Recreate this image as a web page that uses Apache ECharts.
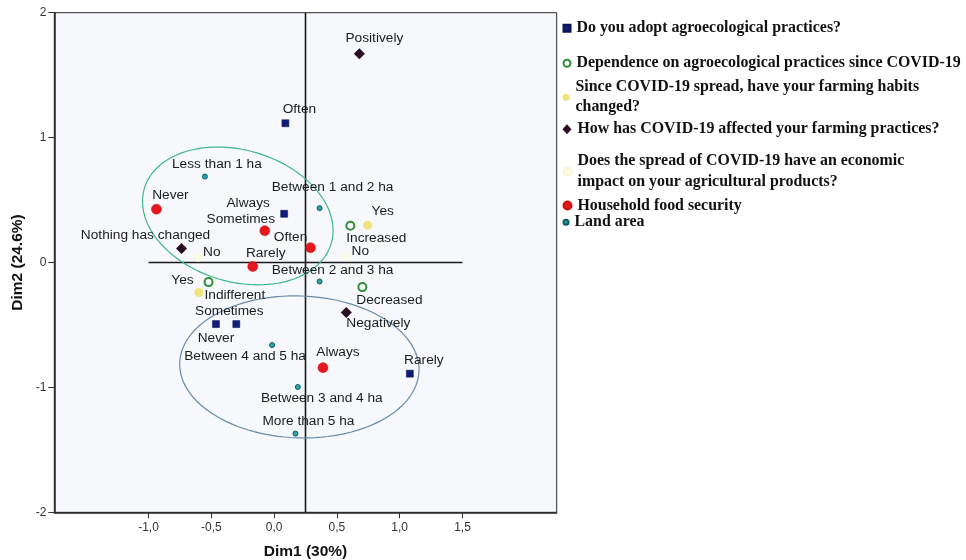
<!DOCTYPE html>
<html><head><meta charset="utf-8">
<script src="https://cdn.jsdelivr.net/npm/echarts@6/dist/echarts.min.js"></script>
<style>html,body{margin:0;padding:0;background:#fff}#c{width:966px;height:560px}</style>
</head><body><div id="c"></div>
<script>
// ---- data ----
const seriesNames = [
  'Do you adopt agroecological practices?',
  'Dependence on agroecological practices since COVID-19',
  'Since COVID-19 spread, have your farming habits changed?',
  'How has COVID-19 affected your farming practices?',
  'Does the spread of COVID-19 have an economic impact on your agricultural products?',
  'Household food security',
  'Land area'
];
const legendLabels = [
  'Do you adopt agroecological practices?',
  'Dependence on agroecological practices since COVID-19',
  'Since COVID-19 spread, have your farming habits\nchanged?',
  'How has COVID-19 affected your farming practices?',
  'Does the spread of COVID-19 have an economic\nimpact on your agricultural products?',
  'Household food security',
  'Land area'
];
const adoptPts = [[0.090, 1.115, 'Often'], [0.080, 0.390, 'Always'], [-0.463, -0.493, 'Never'], [-0.301, -0.493, 'Sometimes'], [1.081, -0.890, 'Rarely']];
const dependPts = [[0.607, 0.294, 'Increased'], [-0.522, -0.157, 'Yes'], [0.703, -0.197, 'Decreased']];
const habitsPts = [[0.745, 0.299, 'Yes'], [-0.599, -0.240, 'Indifferent']];
const affectedPts = [[0.679, 1.672, 'Positively'], [-0.737, 0.112, 'Nothing has changed'], [0.575, -0.400, 'Negatively']];
const economicPts = [[0.575, 0.046, 'No'], [-0.607, 0.040, 'No']];
const foodPts = [[-0.937, 0.427, 'Never'], [-0.074, 0.254, 'Sometimes'], [0.290, 0.118, 'Often'], [-0.170, -0.032, 'Rarely'], [0.389, -0.842, 'Always']];
const landPts = [[-0.551, 0.688, 'Less than 1 ha'], [0.362, 0.435, 'Between 1 and 2 ha'], [0.362, -0.152, 'Between 2 and 3 ha'], [-0.016, -0.661, 'Between 4 and 5 ha'], [0.189, -0.997, 'Between 3 and 4 ha'], [0.170, -1.370, 'More than 5 ha']];
const xTickValues = [-1, -0.5, 0, 0.5, 1, 1.5];
const xRange = [-1.75, 2.25];
const yRange = [-2, 2];
const refVerticalX = 0.25;
const refHorizontal = [[-1, 0], [1.5, 0]];
// ellipses: [cx, cy, a, b, angleDeg]
const ellipses = [[-0.289, 0.373, 0.776, 0.527, -16.6], [0.201, -0.836, 0.953, 0.568, -2]];

// ---- label placement (pixel offsets of text centre from point) ----
const adoptOff = [[14, -14], [-36, -11], [0, 14], [-7, -13], [14, -13]];
const dependOff = [[26, 12], [-26, -2], [27, 13]];
const habitsOff = [[15, -14], [36, 3]];
const affectedOff = [[15, -15], [-36, -13], [32, 11]];
const economicOff = [[14, -6], [14, -5]];
const foodOff = [[14, -14], [-24, -12], [-20, -11], [13, -13], [15, -15]];
const landOff = [[12, -12], [13, -21], [13, -11], [-27, 11], [24, 11], [13, -12]];

const styles = [
  {symbol: 'rect', size: 7, color: '#0f1d78', border: '#0a1250', bw: 0.5, icon: 'rect', iw: 7, ih: 7},
  {symbol: 'emptyCircle', size: 8, color: '#2f8f3a', border: '#2f8f3a', bw: 1.3, icon: 'emptyCircle', iw: 7, ih: 7},
  {symbol: 'circle', size: 9, color: '#f1e47c', border: '#efe07a', bw: 0, icon: 'circle', iw: 7, ih: 7},
  {symbol: 'diamond', size: 11, color: '#2a0b22', border: '#2a0b22', bw: 0, icon: 'diamond', iw: 9, ih: 10},
  {symbol: 'circle', size: 8, color: '#fbfbe4', border: '#f6f6d6', bw: 0.5, icon: 'circle', iw: 8, ih: 8},
  {symbol: 'circle', size: 10, color: '#e5161c', border: '#c81015', bw: 0.5, icon: 'circle', iw: 8, ih: 8},
  {symbol: 'circle', size: 5, color: '#2aa3ad', border: '#0c5c66', bw: 1, icon: 'circle', iw: 5, ih: 5}
];
const allPts = [adoptPts, dependPts, habitsPts, affectedPts, economicPts, foodPts, landPts];
const allOff = [adoptOff, dependOff, habitsOff, affectedOff, economicOff, foodOff, landOff];
const legendTops = [19.7, 54.7, 77.2, 120.7, 150.7, 197, 213.7];
const legendLineH = [17, 17, 20, 17, 21, 17, 17];

const labelFont = {fontFamily: 'Liberation Sans, Arial, sans-serif', fontSize: 13.7, color: '#1b1b1b'};

const scatterSeries = allPts.map((pts, si) => {
  const st = styles[si];
  return {
    name: seriesNames[si],
    type: 'scatter',
    symbol: st.symbol,
    symbolSize: st.size,
    z: 5,
    itemStyle: {color: st.color, borderColor: st.border, borderWidth: st.bw, opacity: 1},
    data: pts.map((p, i) => ({
      value: [p[0], p[1]],
      label: {
        show: true, position: 'inside', formatter: p[2],
        offset: allOff[si][i], ...labelFont
      }
    })),
    emphasis: {disabled: true}
  };
});

const ellipseColors = ['#3cb88a', '#6a8aab'];

const option = {
  animation: false,
  backgroundColor: '#ffffff',
  grid: {left: 54.3, right: 409.3, top: 12.7, bottom: 47.7, outerBoundsMode: 'none', containLabel: false, show: true, backgroundColor: '#f6f8fc', borderColor: '#2a2a2a', borderWidth: 1},
  xAxis: {
    type: 'value', min: xRange[0], max: xRange[1],
    name: 'Dim1 (30%)', nameLocation: 'middle', nameGap: 31,
    nameTextStyle: {fontFamily: 'Liberation Sans, Arial, sans-serif', fontWeight: 'bold', fontSize: 15.5, color: '#111'},
    axisLine: {show: true, onZero: false, lineStyle: {color: '#222', width: 1.5}},
    axisTick: {show: true, length: 6, customValues: xTickValues, lineStyle: {color: '#333'}},
    axisLabel: {customValues: xTickValues, margin: 9, fontFamily: 'Liberation Sans, Arial, sans-serif', fontSize: 12, color: '#333',
      formatter: v => Number(v).toFixed(1).replace('.', ',')},
    splitLine: {show: false}
  },
  yAxis: {
    type: 'value', min: yRange[0], max: yRange[1], interval: 1,
    name: 'Dim2 (24.6%)', nameLocation: 'middle', nameGap: 29, nameRotate: 90, nameMoveOverlap: false,
    nameTextStyle: {fontFamily: 'Liberation Sans, Arial, sans-serif', fontWeight: 'bold', fontSize: 15.5, color: '#111'},
    axisLine: {show: true, onZero: false, lineStyle: {color: '#222', width: 1.5}},
    axisTick: {show: true, length: 6, lineStyle: {color: '#333'}},
    axisLabel: {margin: 8, fontFamily: 'Liberation Sans, Arial, sans-serif', fontSize: 12, color: '#333'},
    splitLine: {show: false}
  },
  legend: seriesNames.map((n, i) => ({
    data: [n], orient: 'vertical', left: 562.5, top: legendTops[i], padding: 0,
    selectedMode: false, icon: styles[i].icon, itemWidth: styles[i].iw, itemHeight: styles[i].ih, itemGap: 0,
    formatter: () => legendLabels[i],
    textStyle: {fontFamily: 'Liberation Serif, Times New Roman, serif', fontWeight: 'bold', fontSize: 15.9, color: '#111', lineHeight: legendLineH[i], padding: [0, 0, 0, 1]}
  })),
  series: [
    {
      type: 'line', data: [[refVerticalX, yRange[0]], [refVerticalX, yRange[1]]], symbol: 'none', silent: true, z: 2,
      lineStyle: {color: '#1a1a1a', width: 1.6}
    },
    {
      type: 'line', data: refHorizontal, symbol: 'none', silent: true, z: 2,
      lineStyle: {color: '#1a1a1a', width: 1.4}
    },
    {
      type: 'custom', silent: true, z: 3,
      data: ellipses,
      renderItem: (params, api) => {
        const cx = api.value(0), cy = api.value(1), a = api.value(2), b = api.value(3);
        const th = api.value(4) * Math.PI / 180;
        const pts = [];
        for (let k = 0; k <= 120; k++) {
          const t = k / 120 * Math.PI * 2;
          const x = cx + a * Math.cos(t) * Math.cos(th) - b * Math.sin(t) * Math.sin(th);
          const y = cy + a * Math.cos(t) * Math.sin(th) + b * Math.sin(t) * Math.cos(th);
          pts.push(api.coord([x, y]));
        }
        return {type: 'polygon', shape: {points: pts}, style: {fill: 'none', stroke: ellipseColors[params.dataIndex], lineWidth: 1.2}};
      }
    },
    ...scatterSeries
  ]
};
const chart = echarts.init(document.getElementById('c'), null, {renderer: 'canvas'});
chart.setOption(option);
</script></body></html>
